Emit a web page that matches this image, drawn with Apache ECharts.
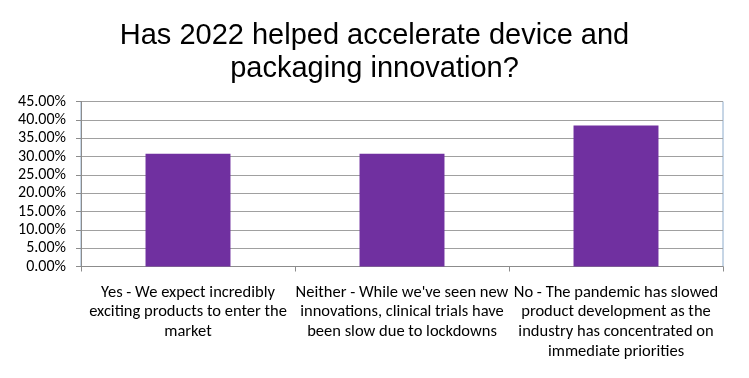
<!DOCTYPE html>
<html><head><meta charset="utf-8">
<script src="https://cdn.jsdelivr.net/npm/echarts@6/dist/echarts.min.js"></script>
<style>html,body{margin:0;padding:0;background:#fff}#c{width:749px;height:378px}</style>
</head><body><div id="c"></div>
<script>
const titleText = "Has 2022 helped accelerate device and\npackaging innovation?";
const categories = [
  "Yes - We expect incredibly\nexciting products to enter the\nmarket",
  "Neither - While we've seen new\ninnovations, clinical trials have\nbeen slow due to lockdowns",
  "No - The pandemic has slowed\nproduct development as the\nindustry has concentrated on\nimmediate priorities"
];
const values = [30.77, 30.77, 38.46];
const yMin = 0, yMax = 45, yStep = 5;

const chart = echarts.init(document.getElementById('c'));
chart.setOption({
  animation: false,
  title: {
    text: titleText, left: 'center', top: 15,
    textStyle: { fontFamily: 'Liberation Sans, Arial', fontSize: 29, fontWeight: 'normal', color: '#000', lineHeight: 32.5 }
  },
  grid: { left: 81, right: 26, top: 101.5, bottom: 111.5, show: true, borderColor: '#8eaccc', borderWidth: 1, backgroundColor: 'transparent' },
  xAxis: {
    type: 'category', data: categories,
    axisLine: { lineStyle: { color: '#8c8c8c' } },
    axisTick: { show: true, length: 5, lineStyle: { color: '#8c8c8c' } },
    axisLabel: { interval: 0, margin: 16, fontFamily: 'Carlito, Liberation Sans Narrow, Liberation Sans', fontSize: 16.5, lineHeight: 19.8, color: '#000' }
  },
  yAxis: {
    type: 'value', min: yMin, max: yMax, interval: yStep,
    axisLine: { show: true, lineStyle: { color: '#8c8c8c' } },
    axisTick: { show: true, length: 5, lineStyle: { color: '#8c8c8c' } },
    splitLine: { lineStyle: { color: '#a0a0a0' } },
    axisLabel: { formatter: v => v.toFixed(2) + '%', fontFamily: 'Carlito, Liberation Sans', fontSize: 16, color: '#000', margin: 15 }
  },
  series: [{
    type: 'bar', data: values, barWidth: '39.7%',
    itemStyle: { color: '#7030a0' }
  }]
});
</script></body></html>
